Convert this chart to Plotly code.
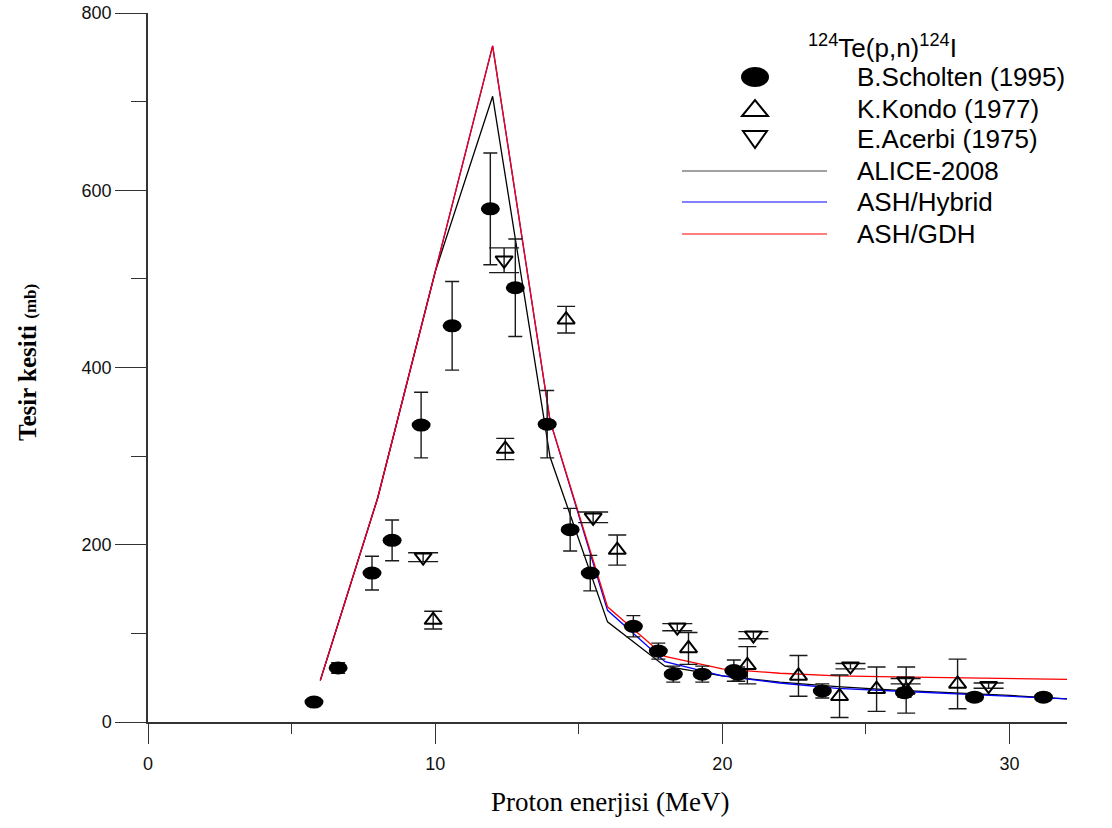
import plotly.graph_objects as go

# ---- experimental data: 124Te(p,n)124I cross sections ----
scholten_E = [5.78, 6.62, 7.80, 8.50, 9.51, 10.59, 11.92, 12.79, 13.90, 14.70, 15.40,
              16.90, 17.77, 18.29, 19.30, 20.40, 20.55, 23.48, 26.34, 28.78, 31.18]
scholten_sigma = [22.5, 61, 168, 205, 335, 447, 579, 490, 336, 217, 168,
                  108, 80, 54, 54, 58, 54, 35, 33, 28, 28]
scholten_err = [2, 6, 19, 23, 37, 50, 63, 55, 38, 24, 20,
                12, 9, 9, 9, 12, 8, 8, 5, 4, 4]

kondo_E = [9.93, 12.44, 14.56, 16.34, 18.82, 20.87, 22.65, 24.08, 25.37, 26.40, 28.19]
kondo_sigma = [115, 308, 454, 194, 83, 64, 52, 29, 37, 36, 43]
kondo_err = [10, 12, 15, 17, 18, 21, 23, 24, 25, 26, 28]

acerbi_E = [9.58, 12.40, 15.50, 18.43, 21.08, 24.46, 26.38, 29.27]
acerbi_sigma = [186, 521, 231, 107, 98, 63, 46, 41]
acerbi_err = [5, 14, 6, 4, 4, 3, 3, 3]

# ---- model calculations ----
model_E = [6, 8, 10, 12, 14, 16, 18, 20, 22, 24, 26, 28, 30, 32]
alice_2008 = [47, 253, 508, 706, 299, 113, 63, 52, 45, 40, 36, 33, 30, 26]
ash_hybrid = [47, 253, 508, 763, 340, 126, 68, 52, 44, 38, 35, 32, 29, 26]
ash_gdh = [47, 253, 508, 763, 340, 130, 74, 60, 55, 52, 51, 50, 49, 48]

legend_labels = ["B.Scholten (1995)", "K.Kondo (1977)", "E.Acerbi (1975)",
                 "ALICE-2008", "ASH/Hybrid", "ASH/GDH"]

SANS = "Liberation Sans, Arial, sans-serif"
SERIF = "Liberation Serif, Times New Roman, serif"
BAR = "#1a1a1a"

fig = go.Figure()

# model curves (red drawn last so it sits on top where curves coincide)
for ys, col in [(alice_2008, "#000000"), (ash_hybrid, "#0000ff"), (ash_gdh, "#ff0000")]:
    fig.add_trace(go.Scatter(x=model_E, y=ys, mode="lines",
                             line=dict(color=col, width=1.3), showlegend=False,
                             hoverinfo="skip"))

# Scholten error bars (filled ellipses are added as shapes below)
fig.add_trace(go.Scatter(
    x=scholten_E, y=scholten_sigma, mode="markers",
    marker=dict(size=1, color="rgba(0,0,0,0)"),
    error_y=dict(type="data", array=scholten_err, color=BAR, thickness=1.4, width=7),
    showlegend=False))

fig.add_trace(go.Scatter(
    x=kondo_E, y=kondo_sigma, mode="markers",
    marker=dict(symbol="triangle-up-open", size=15, color="#000",
                line=dict(width=2, color="#000")),
    error_y=dict(type="data", array=kondo_err, color=BAR, thickness=1.4, width=9),
    showlegend=False))

fig.add_trace(go.Scatter(
    x=acerbi_E, y=acerbi_sigma, mode="markers",
    marker=dict(symbol="triangle-down-open", size=15, color="#000",
                line=dict(width=2, color="#000")),
    error_y=dict(type="data", array=acerbi_err, color=BAR, thickness=1.4, width=15),
    showlegend=False))

shapes = []
for e, s in zip(scholten_E, scholten_sigma):
    shapes.append(dict(type="circle", xref="x", yref="y",
                       xsizemode="pixel", ysizemode="pixel",
                       xanchor=e, yanchor=s, x0=-9.5, x1=9.5, y0=-6.5, y1=6.5,
                       fillcolor="#000", line=dict(width=0), layer="above"))

# ---- hand-built legend (pixel layout mapped onto paper coordinates) ----
PL, PR, PT, PB = 148, 1067, 13, 722


def px(xp):
    return (xp - PL) / (PR - PL)


def py(yp):
    return (PB - yp) / (PB - PT)


rows = [77, 109, 139, 171, 202, 234]
mark_x = px(755)

shapes.append(dict(type="circle", xref="paper", yref="paper",
                   xsizemode="pixel", ysizemode="pixel",
                   xanchor=mark_x, yanchor=py(rows[0]),
                   x0=-14, x1=14, y0=-10, y1=10,
                   fillcolor="#000", line=dict(width=0)))
shapes.append(dict(type="path", xref="paper", yref="paper",
                   xsizemode="pixel", ysizemode="pixel",
                   xanchor=mark_x, yanchor=py(rows[1]),
                   path="M -13,-7 L 13,-7 L 0,9 Z",
                   line=dict(color="#000", width=2)))
shapes.append(dict(type="path", xref="paper", yref="paper",
                   xsizemode="pixel", ysizemode="pixel",
                   xanchor=mark_x, yanchor=py(rows[2]),
                   path="M -12,8 L 12,8 L 0,-9 Z",
                   line=dict(color="#000", width=2)))
for r, col in zip(rows[3:], ["#444444", "#0000ff", "#ff0000"]):
    shapes.append(dict(type="line", xref="paper", yref="paper",
                       x0=px(682), x1=px(827), y0=py(r), y1=py(r),
                       line=dict(color=col, width=1.2)))

annotations = [dict(
    xref="paper", yref="paper", x=px(882), y=py(46), xanchor="center", yanchor="middle",
    showarrow=False,
    text="<sup>124</sup>Te(p,n)<sup>124</sup>I",
    font=dict(family=SANS, size=26, color="#000"))]
for r, lab in zip(rows, legend_labels):
    annotations.append(dict(xref="paper", yref="paper", x=px(855), y=py(r),
                            xanchor="left", yanchor="middle", showarrow=False,
                            text=lab, font=dict(family=SANS, size=26, color="#000")))

# axis titles
annotations.append(dict(xref="paper", yref="paper", x=px(610), y=py(802),
                        xanchor="center", yanchor="middle", showarrow=False,
                        text="Proton enerjisi (MeV)",
                        font=dict(family=SERIF, size=27, color="#000")))
annotations.append(dict(xref="paper", yref="paper", x=px(27), y=py(362),
                        xanchor="center", yanchor="middle", showarrow=False,
                        textangle=-90,
                        text="<b>Tesir kesiti</b> <span style='font-size:17px'><b>(mb)</b></span>",
                        font=dict(family=SERIF, size=25, color="#000")))

AX = "#333333"
fig.update_layout(
    width=1112, height=828,
    margin=dict(l=PL, r=1112 - PR, t=PT, b=828 - PB, autoexpand=False),
    paper_bgcolor="white", plot_bgcolor="white",
    shapes=shapes, annotations=annotations,
    showlegend=False,
    xaxis=dict(range=[0, 32], showgrid=False, zeroline=False, automargin=False,
               showline=True, linecolor=AX, linewidth=1.5,
               ticks="outside", ticklen=20, tickwidth=1.4, tickcolor=AX,
               tick0=0, dtick=10, ticklabelstandoff=5,
               minor=dict(ticks="outside", ticklen=10, tickwidth=1.4,
                          tickcolor=AX, dtick=5, showgrid=False),
               tickfont=dict(family=SANS, size=18, color="#111")),
    yaxis=dict(range=[0, 800], showgrid=False, zeroline=False, automargin=False,
               showline=True, linecolor=AX, linewidth=1.5,
               ticks="outside", ticklen=31, tickwidth=1.4, tickcolor=AX,
               tick0=0, dtick=200,
               minor=dict(ticks="outside", ticklen=15, tickwidth=1.4,
                          tickcolor=AX, dtick=100, showgrid=False),
               tickfont=dict(family=SANS, size=18, color="#111")),
)

fig.write_html("out.html")
